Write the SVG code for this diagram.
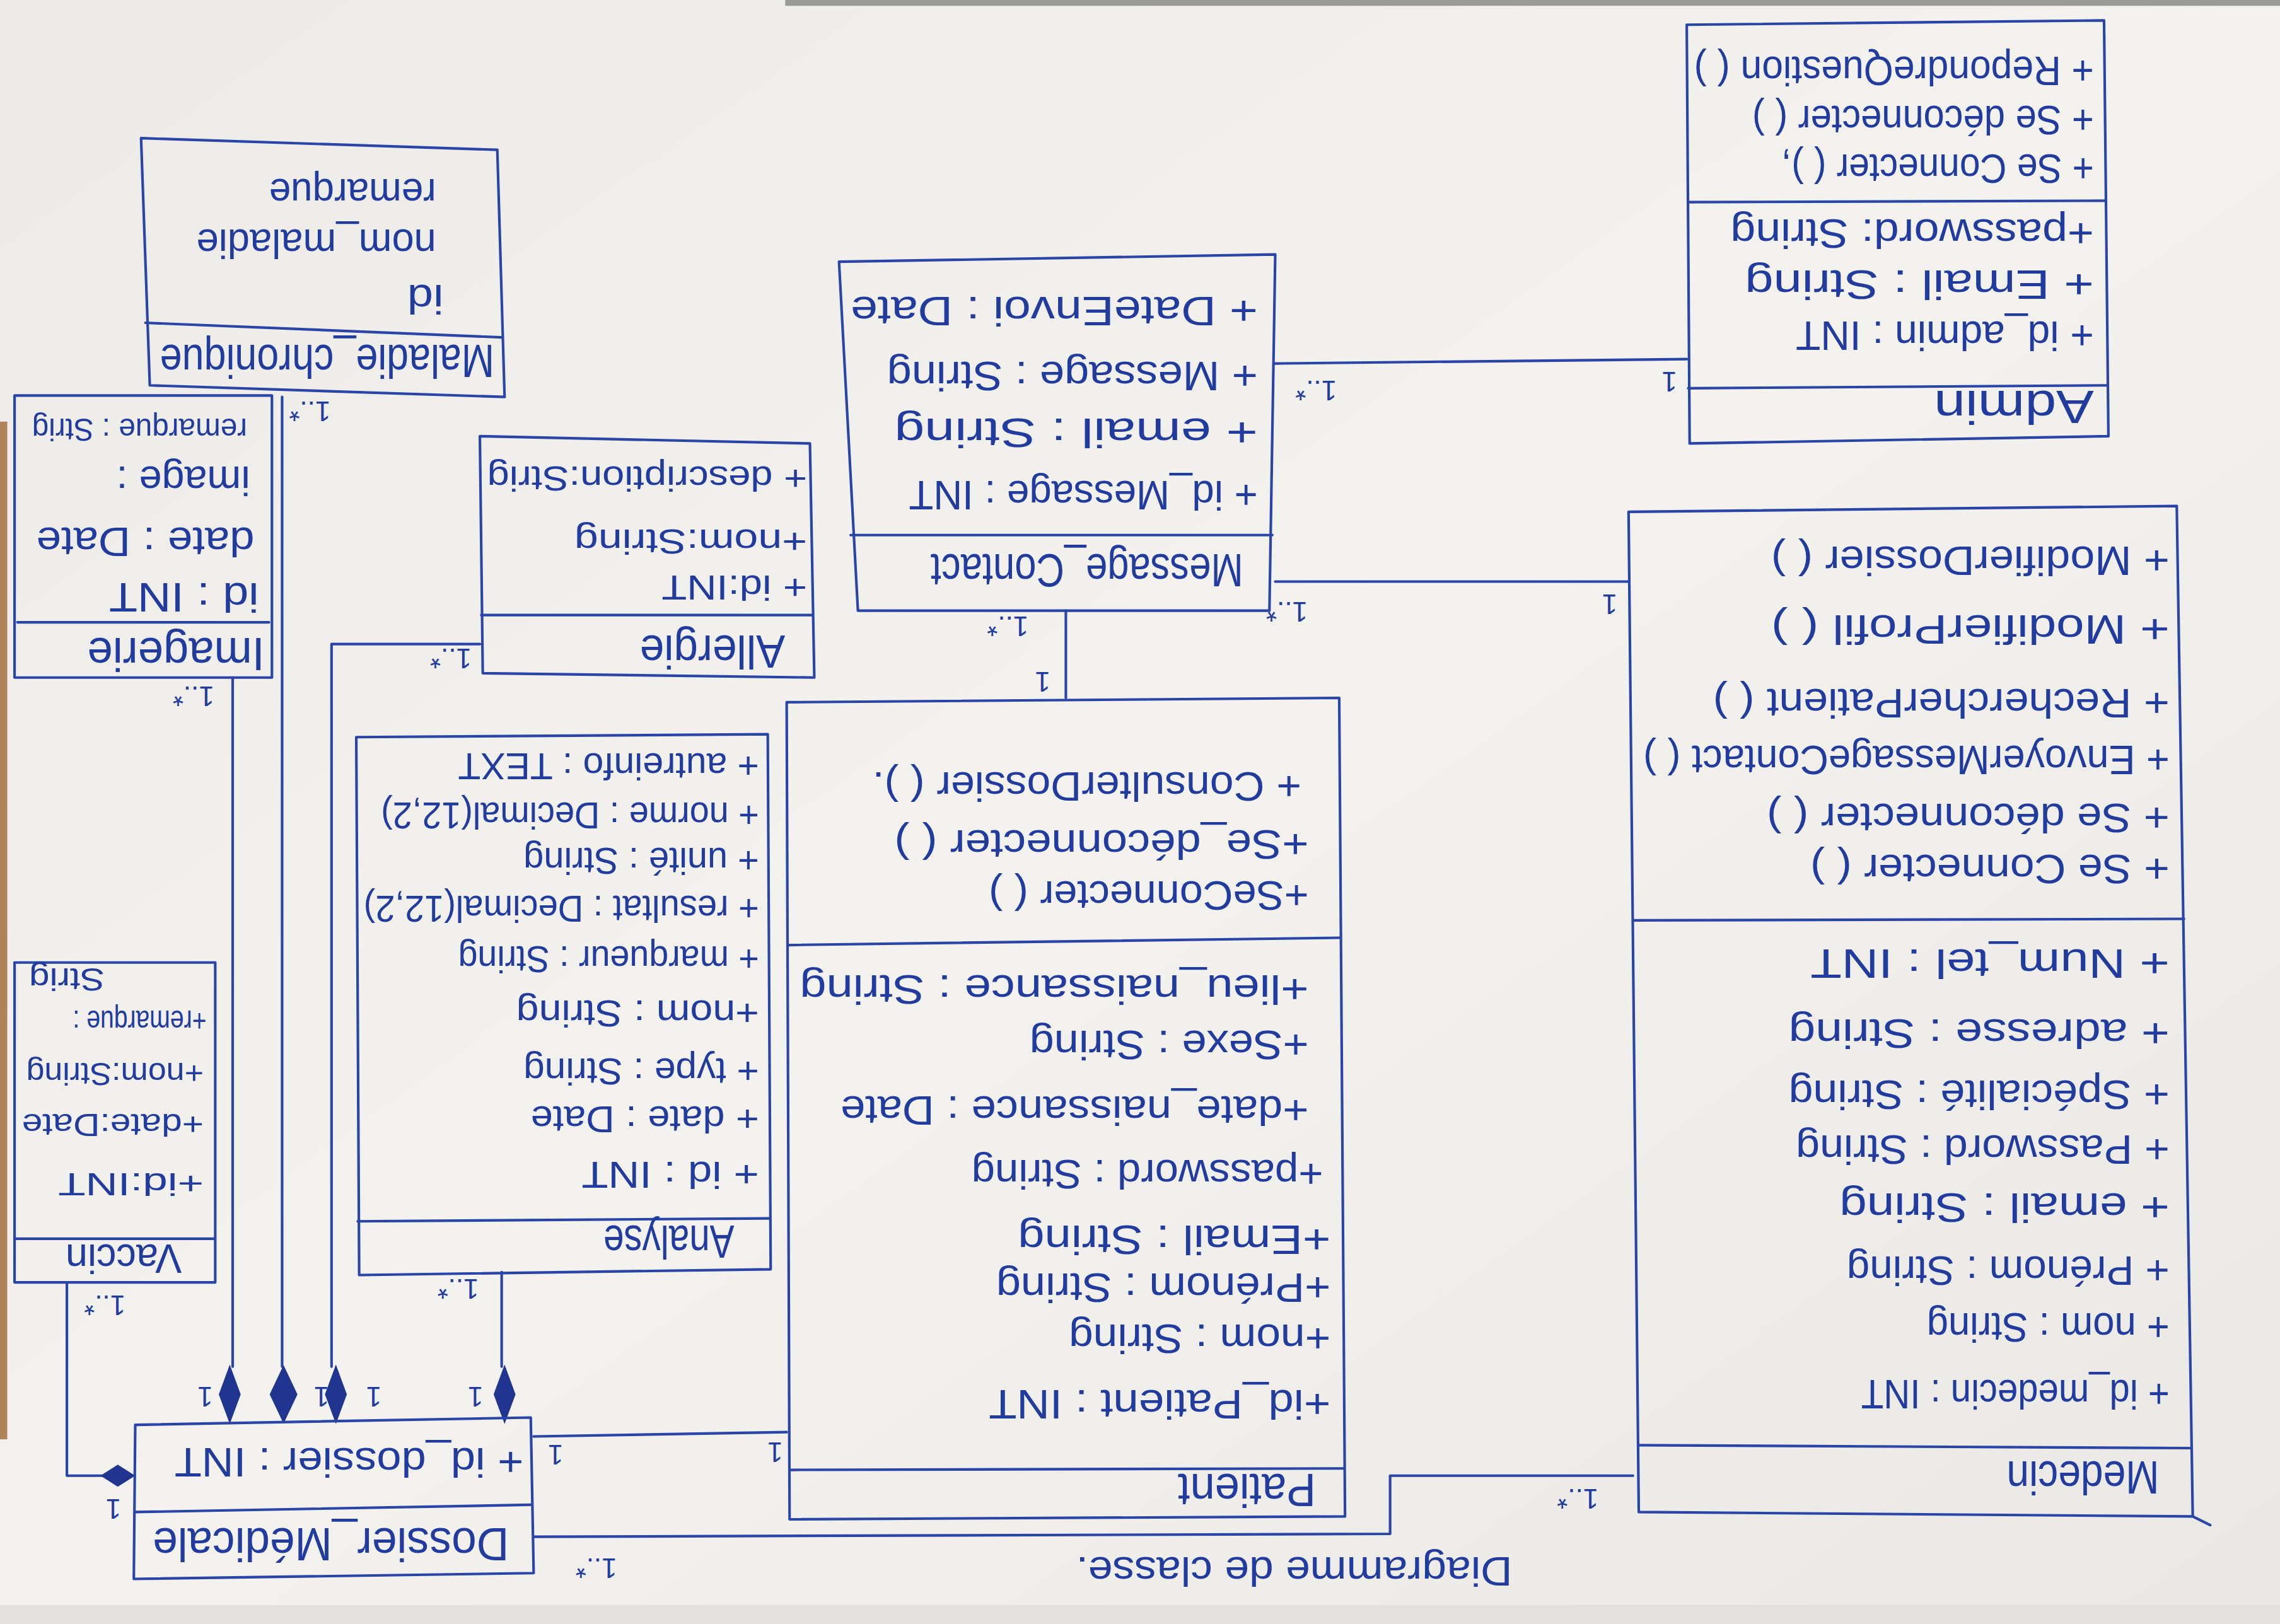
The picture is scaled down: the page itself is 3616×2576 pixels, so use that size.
<svg xmlns="http://www.w3.org/2000/svg" xmlns:xlink="http://www.w3.org/1999/xlink" width="3616" height="2576" viewBox="0 0 3616 2576">
<style>
  .ink{fill:none;stroke:#2945a8;stroke-width:1.8;stroke-linejoin:round;stroke-linecap:round}
  .t{font-family:"Liberation Sans",Arial,sans-serif;font-size:28px;fill:#213c9e}
  .n{font-size:32px}
  .a{font-size:26px}
  .c{font-size:24px}
  .s{font-size:22px}
  .m{font-family:"Liberation Sans",Arial,sans-serif;font-size:19px;fill:#213c9e;text-anchor:middle}
  .dia{fill:#1f358f;stroke:#1f358f;stroke-width:1}
</style>
<defs>
  <linearGradient id="paper" x1="0" y1="0" x2="1" y2="1">
    <stop offset="0" stop-color="#ecebe7"/>
    <stop offset="0.5" stop-color="#f3f2ef"/>
    <stop offset="1" stop-color="#e9e8e4"/>
  </linearGradient>
  <path id="vd" d="M0,-19 L7,0 L0,19 L-7,0Z"/>
  <path id="vdw" d="M0,-19 L9,0 L0,19 L-9,0Z"/>
</defs>

<!-- sheet of paper and its edges -->
<rect width="3616" height="2576" fill="url(#paper)"/>
<g transform="scale(2.3061)">
  <rect x="540" y="0" width="1028" height="4" fill="#9a9a98"/>
  <rect x="0" y="290" width="5" height="700" fill="#b0845a"/>
  <rect x="0" y="1104" width="1568" height="13" fill="#e2e1dd"/>
</g>

<!-- the sheet is written upside down: everything below is laid out upright, then turned -->
<g id="diagram" transform="rotate(180 1808 1288) scale(2.3061)">

  <g id="connectors" class="ink">
    <path d="M691,867 L408,870"/>
    <path d="M691,717 L448,717"/>
    <path d="M835,697 L835,637"/>
    <path d="M1027,132 L1201,129"/>
    <path d="M1201,60 L612,62 L612,102 L445,102"/>
    <path d="M1408,651 L1408,177"/>
    <path d="M1374,844 L1374,177"/>
    <path d="M1238,674 L1340,674 L1340,177"/>
    <path d="M1223,242 L1223,177"/>
    <path d="M1522,235 L1522,102 L1498,102"/>
  </g>
  <g id="diamonds" class="dia">
    <use xlink:href="#vd" x="1410" y="158"/>
    <use xlink:href="#vdw" x="1373" y="158"/>
    <use xlink:href="#vd" x="1337" y="158"/>
    <use xlink:href="#vd" x="1221" y="158"/>
    <path d="M1476,102 L1487,95 L1498,102 L1487,109Z"/>
  </g>
  <g id="multiplicities">
    <text class="m" x="663" y="855">1..*</text>
    <text class="m" x="420" y="861">1</text>
    <text class="m" x="683" y="703">1..*</text>
    <text class="m" x="461" y="708">1</text>
    <text class="m" x="875" y="693">1..*</text>
    <text class="m" x="851" y="655">1</text>
    <text class="m" x="1186" y="123">1</text>
    <text class="m" x="1035" y="125">1</text>
    <text class="m" x="1158" y="45">1..*</text>
    <text class="m" x="483" y="93">1..*</text>
    <text class="m" x="1435" y="645">1..*</text>
    <text class="m" x="1355" y="841">1..*</text>
    <text class="m" x="1258" y="671">1..*</text>
    <text class="m" x="1253" y="237">1..*</text>
    <text class="m" x="1496" y="226">1..*</text>
    <text class="m" x="1490" y="86">1</text>
    <text class="m" x="1427" y="163">1</text>
    <text class="m" x="1347" y="163">1</text>
    <text class="m" x="1311" y="163">1</text>
    <text class="m" x="1241" y="163">1</text>
  </g>

  <g id="admin">
    <polygon class="ink" points="118,817 406,812 408,1100 121,1103"/>
    <path class="ink" d="M119,852 L407,850 M120,979 L407,978"/>
    <text class="t n" x="128" y="848" textLength="110" lengthAdjust="spacingAndGlyphs">Admin</text>
    <text class="t" x="128" y="896" textLength="205" lengthAdjust="spacingAndGlyphs">+ id_admin : INT</text>
    <text class="t" x="128" y="931" textLength="240" lengthAdjust="spacingAndGlyphs">+ Email : String</text>
    <text class="t" x="128" y="966" textLength="250" lengthAdjust="spacingAndGlyphs">+password: String</text>
    <text class="t" x="128" y="1011" textLength="215" lengthAdjust="spacingAndGlyphs">+ Se Connecter ( ),</text>
    <text class="t" x="128" y="1044" textLength="235" lengthAdjust="spacingAndGlyphs">+ Se déconnecter ( )</text>
    <text class="t" x="128" y="1078" textLength="275" lengthAdjust="spacingAndGlyphs">+ RepondreQuestion ( )</text>
  </g>

  <g id="medecin">
    <polygon class="ink" points="60,74 441,77 448,765 71,769"/>
    <path class="ink" d="M62,121 L441,123 M66,485 L445,484 M60,74 Q52,70 48,68"/>
    <text class="t n" x="83" y="112" textLength="105" lengthAdjust="spacingAndGlyphs">Medecin</text>
    <text class="t" x="76" y="168" textLength="212" lengthAdjust="spacingAndGlyphs">+ id_medecin : INT</text>
    <text class="t" x="76" y="214" textLength="167" lengthAdjust="spacingAndGlyphs">+ nom : String</text>
    <text class="t" x="76" y="253" textLength="222" lengthAdjust="spacingAndGlyphs">+ Prénom : String</text>
    <text class="t" x="76" y="296" textLength="227" lengthAdjust="spacingAndGlyphs">+ email : String</text>
    <text class="t" x="76" y="336" textLength="257" lengthAdjust="spacingAndGlyphs">+ Password : String</text>
    <text class="t" x="76" y="374" textLength="262" lengthAdjust="spacingAndGlyphs">+ Spécialité : String</text>
    <text class="t" x="76" y="416" textLength="262" lengthAdjust="spacingAndGlyphs">+ adresse : String</text>
    <text class="t" x="76" y="464" textLength="247" lengthAdjust="spacingAndGlyphs">+ Num_tel : INT</text>
    <text class="t" x="76" y="529" textLength="247" lengthAdjust="spacingAndGlyphs">+ Se Connecter ( )</text>
    <text class="t" x="76" y="564" textLength="277" lengthAdjust="spacingAndGlyphs">+ Se déconnecter ( )</text>
    <text class="t" x="76" y="604" textLength="362" lengthAdjust="spacingAndGlyphs">+ EnvoyerMessageContact ( )</text>
    <text class="t" x="76" y="643" textLength="314" lengthAdjust="spacingAndGlyphs">+ RechercherPatient ( )</text>
    <text class="t" x="76" y="694" textLength="274" lengthAdjust="spacingAndGlyphs">+ ModifierProfil ( )</text>
    <text class="t" x="76" y="741" textLength="274" lengthAdjust="spacingAndGlyphs">+ ModifierDossier ( )</text>
  </g>

  <g id="message_contact">
    <polygon class="ink" points="695,697 978,697 991,937 691,942"/>
    <path class="ink" d="M693,749 L983,749"/>
    <text class="t n" x="713" y="736" textLength="215" lengthAdjust="spacingAndGlyphs">Message_Contact</text>
    <text class="t" x="703" y="786" textLength="240" lengthAdjust="spacingAndGlyphs">+ id_Message : INT</text>
    <text class="t" x="703" y="829" textLength="250" lengthAdjust="spacingAndGlyphs">+ email : String</text>
    <text class="t" x="703" y="868" textLength="255" lengthAdjust="spacingAndGlyphs">+ Message : String</text>
    <text class="t" x="703" y="913" textLength="280" lengthAdjust="spacingAndGlyphs">+ DateEnvoi : Date</text>
  </g>

  <g id="patient">
    <polygon class="ink" points="643,74 1025,72 1027,634 647,637"/>
    <path class="ink" d="M644,107 L1025,106 M647,472 L1026,467"/>
    <text class="t n" x="663" y="103" textLength="95" lengthAdjust="spacingAndGlyphs">Patient</text>
    <text class="t" x="653" y="161" textLength="235" lengthAdjust="spacingAndGlyphs">+id_Patient : INT</text>
    <text class="t" x="653" y="206" textLength="180" lengthAdjust="spacingAndGlyphs">+nom : String</text>
    <text class="t" x="653" y="241" textLength="230" lengthAdjust="spacingAndGlyphs">+Prénom : String</text>
    <text class="t" x="653" y="274" textLength="215" lengthAdjust="spacingAndGlyphs">+Email : String</text>
    <text class="t" x="658" y="319" textLength="242" lengthAdjust="spacingAndGlyphs">+password : String</text>
    <text class="t" x="668" y="363" textLength="322" lengthAdjust="spacingAndGlyphs">+date_naissance : Date</text>
    <text class="t" x="668" y="408" textLength="192" lengthAdjust="spacingAndGlyphs">+Sexe : String</text>
    <text class="t" x="668" y="446" textLength="350" lengthAdjust="spacingAndGlyphs">+lieu_naissance : String</text>
    <text class="t" x="668" y="511" textLength="220" lengthAdjust="spacingAndGlyphs">+SeConnecter ( )</text>
    <text class="t" x="668" y="546" textLength="285" lengthAdjust="spacingAndGlyphs">+Se_déconnecter ( )</text>
    <text class="t" x="673" y="586" textLength="295" lengthAdjust="spacingAndGlyphs">+ ConsulterDossier ( ).</text>
  </g>

  <g id="maladie_chronique">
    <polygon class="ink" points="1221,844 1465,852 1471,1022 1226,1014"/>
    <path class="ink" d="M1223,885 L1468,895"/>
    <text class="t n" x="1228" y="880" textLength="230" lengthAdjust="spacingAndGlyphs">Maladie_chronique</text>
    <text class="t" x="1263" y="921" textLength="25" lengthAdjust="spacingAndGlyphs">id</text>
    <text class="t" x="1268" y="959" textLength="165" lengthAdjust="spacingAndGlyphs">nom_maladie</text>
    <text class="t" x="1268" y="994" textLength="115" lengthAdjust="spacingAndGlyphs">remarque</text>
  </g>

  <g id="imagerie">
    <polygon class="ink" points="1381,651 1558,651 1558,845 1381,845"/>
    <path class="ink" d="M1383,689 L1556,689"/>
    <text class="t n" x="1386" y="678" textLength="122" lengthAdjust="spacingAndGlyphs">Imagerie</text>
    <text class="t" x="1390" y="716" textLength="103" lengthAdjust="spacingAndGlyphs">id : INT</text>
    <text class="t" x="1393" y="754" textLength="150" lengthAdjust="spacingAndGlyphs">date : Date</text>
    <text class="t" x="1396" y="796" textLength="92" lengthAdjust="spacingAndGlyphs">image :</text>
    <text class="t s" x="1398" y="829" textLength="148" lengthAdjust="spacingAndGlyphs">remarque : Strig</text>
  </g>

  <g id="allergie">
    <polygon class="ink" points="1008,651 1236,654 1238,817 1011,812"/>
    <path class="ink" d="M1009,694 L1237,694"/>
    <text class="t n" x="1028" y="680" textLength="100" lengthAdjust="spacingAndGlyphs">Allergie</text>
    <text class="t c" x="1013" y="721" textLength="100" lengthAdjust="spacingAndGlyphs">+ id:INT</text>
    <text class="t c" x="1013" y="753" textLength="160" lengthAdjust="spacingAndGlyphs">+nom:String</text>
    <text class="t c" x="1013" y="796" textLength="220" lengthAdjust="spacingAndGlyphs">+ description:Strig</text>
  </g>

  <g id="analyse">
    <polygon class="ink" points="1038,244 1321,240 1323,610 1040,612"/>
    <path class="ink" d="M1039,279 L1322,277"/>
    <text class="t n" x="1063" y="274" textLength="90" lengthAdjust="spacingAndGlyphs">Analyse</text>
    <text class="t a" x="1046" y="318" textLength="122" lengthAdjust="spacingAndGlyphs">+ id : INT</text>
    <text class="t a" x="1046" y="356" textLength="157" lengthAdjust="spacingAndGlyphs">+ date : Date</text>
    <text class="t a" x="1046" y="389" textLength="162" lengthAdjust="spacingAndGlyphs">+ type : String</text>
    <text class="t a" x="1046" y="429" textLength="167" lengthAdjust="spacingAndGlyphs">+nom : String</text>
    <text class="t a" x="1046" y="466" textLength="207" lengthAdjust="spacingAndGlyphs">+ marqueur : String</text>
    <text class="t a" x="1046" y="501" textLength="272" lengthAdjust="spacingAndGlyphs">+ resultat : Decimal(12,2)</text>
    <text class="t a" x="1046" y="534" textLength="162" lengthAdjust="spacingAndGlyphs">+ unité : String</text>
    <text class="t a" x="1046" y="565" textLength="260" lengthAdjust="spacingAndGlyphs">+ norme : Decimal(12,2)</text>
    <text class="t a" x="1046" y="599" textLength="207" lengthAdjust="spacingAndGlyphs">+ autreinfo : TEXT</text>
  </g>

  <g id="vaccin">
    <polygon class="ink" points="1420,235 1558,235 1558,455 1420,455"/>
    <path class="ink" d="M1421,265 L1557,265"/>
    <text class="t" x="1443" y="261" textLength="80" lengthAdjust="spacingAndGlyphs">Vaccin</text>
    <text class="t s" x="1428" y="310" textLength="100" lengthAdjust="spacingAndGlyphs">+id:INT</text>
    <text class="t s" x="1428" y="351" textLength="125" lengthAdjust="spacingAndGlyphs">+date:Date</text>
    <text class="t s" x="1428" y="386" textLength="122" lengthAdjust="spacingAndGlyphs">+nom:String</text>
    <text class="t s" x="1426" y="422" textLength="92" lengthAdjust="spacingAndGlyphs">+remarque :</text>
    <text class="t s" x="1496" y="451" textLength="52" lengthAdjust="spacingAndGlyphs">Strig</text>
  </g>

  <g id="dossier_medicale">
    <polygon class="ink" points="1201,35 1476,31 1475,137 1203,142"/>
    <path class="ink" d="M1203,82 L1475,77"/>
    <text class="t n" x="1218" y="66" textLength="245" lengthAdjust="spacingAndGlyphs">Dossier_Médicale</text>
    <text class="t" x="1208" y="121" textLength="240" lengthAdjust="spacingAndGlyphs">+ id_dossier : INT</text>
  </g>

  <text id="title" class="t" x="528" y="46" font-size="34" textLength="300" lengthAdjust="spacingAndGlyphs">Diagramme de classe.</text>
</g>
</svg>
